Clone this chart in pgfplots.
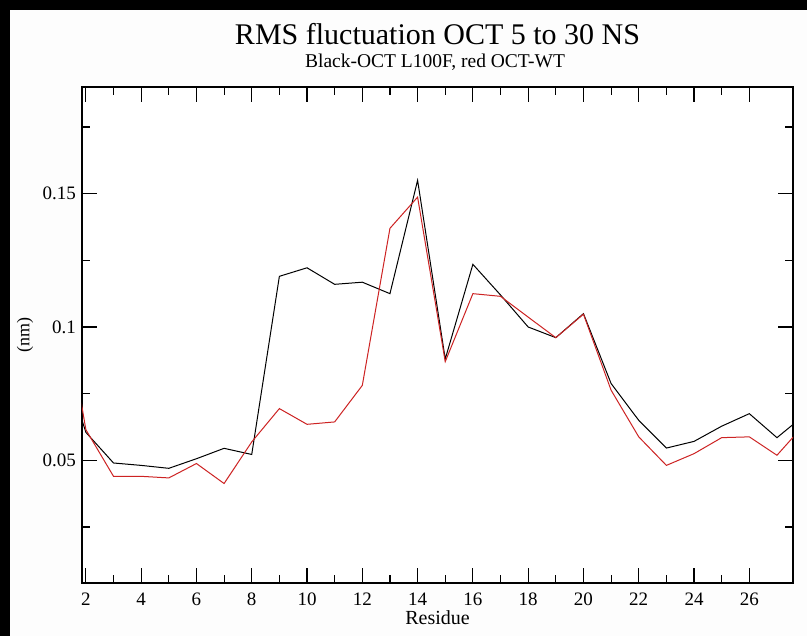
\documentclass[border=0pt]{standalone}
\usepackage{fontspec}
\setmainfont{Liberation Serif}
\usepackage{pgfplots}
\pgfplotsset{compat=1.18}
\usepackage{pgfplotstable}

\definecolor{wtred}{RGB}{205,35,35}
\definecolor{paper}{RGB}{253,253,253}

% RMS fluctuation per residue (nm)
\pgfplotstableread{
res  mut      wt
1    0.093    0.122
2    0.0605   0.0615
3    0.0490   0.0440
4    0.0481   0.0440
5    0.0470   0.0434
6    0.0506   0.0488
7    0.0545   0.0413
8    0.0522   0.0569
9    0.1190   0.0694
10   0.1222   0.0635
11   0.1160   0.0644
12   0.1168   0.0781
13   0.1125   0.1370
14   0.1550   0.1487
15   0.0880   0.0870
16   0.1235   0.1125
17   0.1120   0.1115
18   0.1000   0.1037
19   0.0960   0.0960
20   0.1050   0.1048
21   0.0788   0.0763
22   0.0650   0.0588
23   0.0546   0.0481
24   0.0571   0.0525
25   0.0628   0.0585
26   0.0675   0.0588
27   0.0585   0.0519
28   0.0670   0.0635
}\rmsdata

\begin{document}
\begin{tikzpicture}[x=1pt,y=1pt]
\fill[paper] (-2,-2) rectangle (809,638);

\begin{axis}[
  at={(82pt,53pt)}, anchor=south west,
  scale only axis, width=711pt, height=496pt,
  xmin=1.86, xmax=27.58,
  ymin=0.004, ymax=0.19,
  axis background/.style={fill=white},
  axis line style={line width=1.3pt},
  tick style={line width=1.1pt, black},
  tick align=inside,
  major tick length=15pt, minor tick length=8pt,
  xtick={2,4,...,26}, minor x tick num=1,
  ytick={0.05,0.1,0.15}, yticklabels={0.05,0.1,0.15},
  minor ytick={0.025,0.075,0.125,0.175},
  /pgf/number format/assume math mode=true,
  tick label style={font=\fontsize{19}{22}\selectfont},
  xticklabel style={anchor=north, inner sep=0pt, yshift=-10pt},
  yticklabel style={anchor=east, inner sep=0pt, xshift=-6pt},
  xlabel={Residue},
  xlabel style={at={(axis description cs:0.5,0)}, anchor=base, inner sep=0pt,
                yshift=-42pt, font=\fontsize{20}{24}\selectfont},
  ylabel={(nm)},
  ylabel style={at={(axis description cs:0,0.5)}, anchor=center, inner sep=0pt,
                yshift=57pt, font=\fontsize{18}{22}\selectfont},
]
\addplot[black, line width=1pt] table[x=res, y=mut] {\rmsdata};
\addplot[wtred, line width=1pt] table[x=res, y=wt] {\rmsdata};
\end{axis}

\node[anchor=base, inner sep=0pt, font=\fontsize{30}{34}\selectfont]
  at (437.5,591) {RMS fluctuation OCT 5 to 30 NS};
\node[anchor=base, inner sep=0pt, font=\fontsize{19.5}{23}\selectfont]
  at (435,568) {Black-OCT L100F, red OCT-WT};

% dark border strips along the top and left edges
\fill[black] (-2,626) rectangle (809,638);
\fill[black] (-2,-2) rectangle (10,638);

\pgfresetboundingbox
\path[use as bounding box] (0,0) rectangle (807,636);
\end{tikzpicture}
\end{document}
